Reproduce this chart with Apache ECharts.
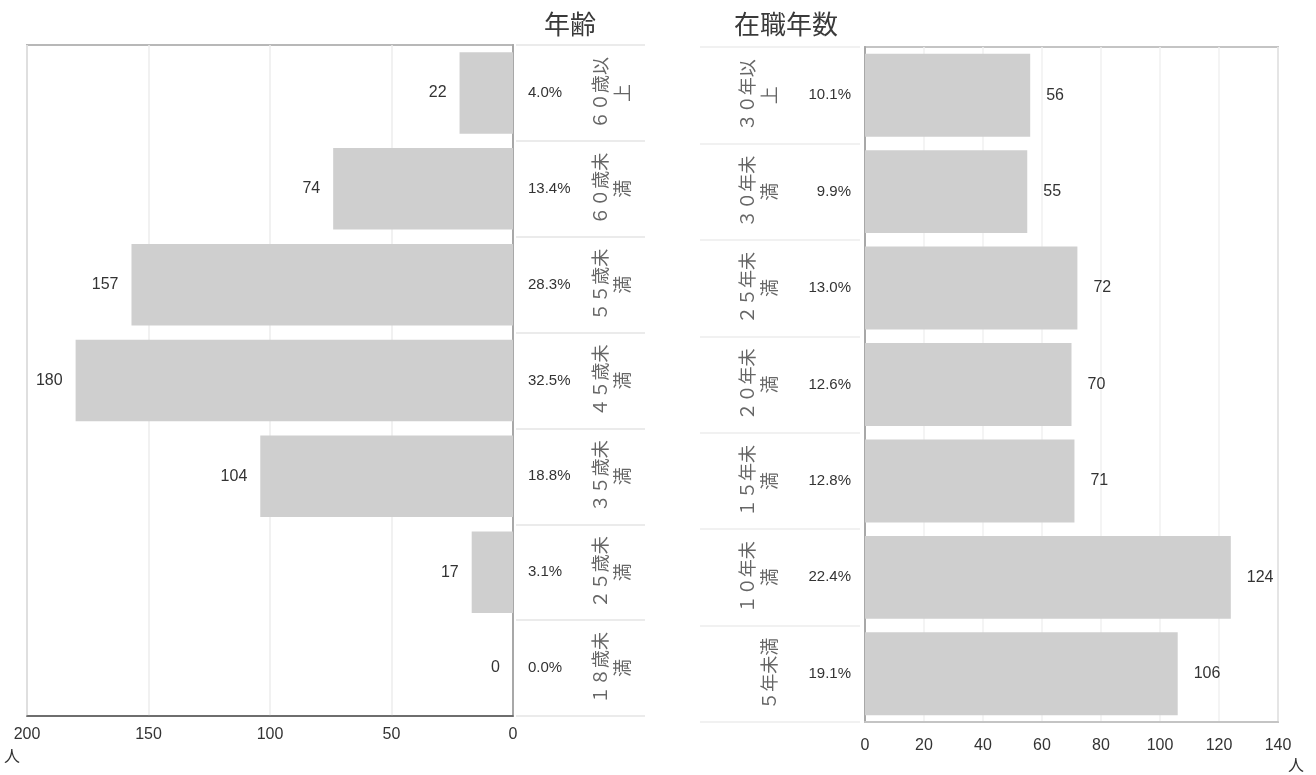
<!DOCTYPE html>
<html><head><meta charset="utf-8">
<script src="https://cdn.jsdelivr.net/npm/echarts@6/dist/echarts.min.js"></script>
<style>html,body{margin:0;padding:0;background:#fff}#c{width:1316px;height:775px}</style>
</head><body><div id="c"></div>
<script>
const ageCategories = ['６０歳以\n上','６０歳未\n満','５５歳未\n満','４５歳未\n満','３５歳未\n満','２５歳未\n満','１８歳未\n満'];
const ageCounts = [22, 74, 157, 180, 104, 17, 0];
const agePercents = ['4.0%','13.4%','28.3%','32.5%','18.8%','3.1%','0.0%'];
const tenureCategories = ['３０年以\n上','３０年未\n満','２５年未\n満','２０年未\n満','１５年未\n満','１０年未\n満','５年未満'];
const tenureCounts = [56, 55, 72, 70, 71, 124, 106];
const tenurePercents = ['10.1%','9.9%','13.0%','12.6%','12.8%','22.4%','19.1%'];
const ageAxisRange = [0, 200, 50];
const tenureAxisRange = [0, 140, 20];
const titles = ['年齢', '在職年数'];
const unitLabel = '人';

const FONT = 'Liberation Sans, Arial, sans-serif';
const CJK = 'Noto Sans CJK JP';
const BAR = '#cfcfcf';

const chart = echarts.init(document.getElementById('c'));
chart.setOption({
  backgroundColor: '#fff',
  animation: false,
  title: [
    {text: titles[0], left: 565, top: 6, textAlign: 'center', textStyle: {fontFamily: CJK, fontWeight: 'normal', fontSize: 26, color: '#3a3a3a'}},
    {text: titles[1], left: 781, top: 6, textAlign: 'center', textStyle: {fontFamily: CJK, fontWeight: 'normal', fontSize: 26, color: '#3a3a3a'}}
  ],
  graphic: [
    {type: 'text', left: 4, top: 748, style: {text: unitLabel, font: '16px "Noto Sans CJK JP"', fill: '#333'}},
    {type: 'text', left: 1288, top: 757, style: {text: unitLabel, font: '16px "Noto Sans CJK JP"', fill: '#333'}}
  ],
  grid: [
    {left: 27, top: 45, width: 486, height: 671, show: true, borderColor: '#b8b8b8', borderWidth: 2},
    {left: 865, top: 47, width: 413, height: 675, show: true, borderColor: '#c4c4c4', borderWidth: 2},
    {left: 516, top: 45, width: 129, height: 671},
    {left: 700, top: 47, width: 160, height: 675}
  ],
  xAxis: [
    {gridIndex: 0, type: 'value', inverse: true, min: ageAxisRange[0], max: ageAxisRange[1], interval: ageAxisRange[2],
     axisLine: {show: true, lineStyle: {color: '#555', width: 1.5}}, axisTick: {show: false},
     axisLabel: {margin: 11, color: '#333', fontSize: 16, fontFamily: FONT},
     splitLine: {show: true, lineStyle: {color: '#ececec', width: 1.5}}},
    {gridIndex: 1, type: 'value', min: tenureAxisRange[0], max: tenureAxisRange[1], interval: tenureAxisRange[2],
     axisLine: {show: true, lineStyle: {color: '#c4c4c4', width: 2}}, axisTick: {show: false},
     axisLabel: {margin: 16, color: '#333', fontSize: 16, fontFamily: FONT},
     splitLine: {show: true, lineStyle: {color: '#f0f0f0', width: 1.5}}},
    {gridIndex: 2, type: 'value', show: false, min: 0, max: 1},
    {gridIndex: 3, type: 'value', show: false, min: 0, max: 1}
  ],
  yAxis: [
    {gridIndex: 0, type: 'category', data: ageCategories, inverse: true, position: 'right',
     axisLine: {show: true, lineStyle: {color: '#a8a8a8', width: 2}}, axisTick: {show: false},
     axisLabel: {formatter: (v, i) => agePercents[i], margin: 15, color: '#333', fontSize: 15, fontFamily: FONT}},
    {gridIndex: 0, type: 'category', data: ageCategories, inverse: true, position: 'right', offset: 61,
     axisLine: {show: false}, axisTick: {show: false},
     axisLabel: {rotate: 90, margin: 15, color: '#666', fontSize: 18, lineHeight: 22, fontFamily: CJK}},
    {gridIndex: 1, type: 'category', data: tenureCategories, inverse: true, position: 'left',
     axisLine: {show: true, lineStyle: {color: '#a8a8a8', width: 2}}, axisTick: {show: false},
     axisLabel: {formatter: (v, i) => tenurePercents[i], margin: 14, color: '#333', fontSize: 15, fontFamily: FONT}},
    {gridIndex: 1, type: 'category', data: tenureCategories, inverse: true, position: 'left', offset: 70,
     axisLine: {show: false}, axisTick: {show: false},
     axisLabel: {rotate: 90, margin: 15, color: '#666', fontSize: 18, lineHeight: 22, fontFamily: CJK}},
    {gridIndex: 2, type: 'category', data: ageCategories, inverse: true,
     axisLine: {show: false}, axisTick: {show: false}, axisLabel: {show: false},
     splitLine: {show: true, lineStyle: {color: '#e4e4e4', width: 1.5}}},
    {gridIndex: 3, type: 'category', data: tenureCategories, inverse: true,
     axisLine: {show: false}, axisTick: {show: false}, axisLabel: {show: false},
     splitLine: {show: true, lineStyle: {color: '#ececec', width: 1.5}}}
  ],
  series: [
    {type: 'bar', xAxisIndex: 0, yAxisIndex: 0, data: ageCounts, barWidth: '85%',
     itemStyle: {color: BAR},
     label: {show: true, position: 'left', distance: 13, color: '#333', fontSize: 16, fontFamily: FONT}},
    {type: 'bar', xAxisIndex: 1, yAxisIndex: 2, data: tenureCounts, barWidth: '86%',
     itemStyle: {color: BAR},
     label: {show: true, position: 'right', distance: 16, color: '#333', fontSize: 16, fontFamily: FONT}}
  ]
});
</script></body></html>
